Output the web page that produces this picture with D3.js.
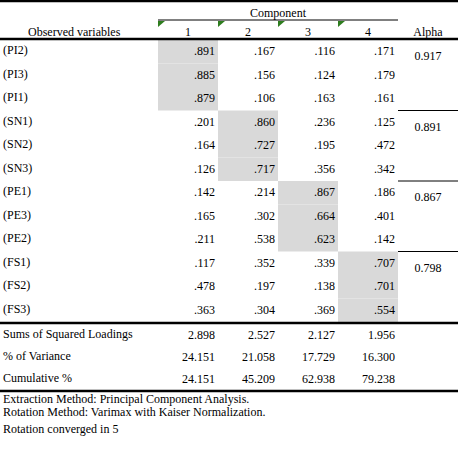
<!DOCTYPE html>
<html><head><meta charset="utf-8">
<script src="https://cdn.jsdelivr.net/npm/d3@7"></script>
<style>body{margin:0;background:#fff}</style>
</head><body><div id="chart"></div>
<script>
const WIDTH = 461;
const HEIGHT = 449;

const variables = ['(PI2)', '(PI3)', '(PI1)', '(SN1)', '(SN2)', '(SN3)', '(PE1)', '(PE3)', '(PE2)', '(FS1)', '(FS2)', '(FS3)'];
const components = ['1', '2', '3', '4'];
const loadings = [
    ['.891', '.167', '.116', '.171'],
    ['.885', '.156', '.124', '.179'],
    ['.879', '.106', '.163', '.161'],
    ['.201', '.860', '.236', '.125'],
    ['.164', '.727', '.195', '.472'],
    ['.126', '.717', '.356', '.342'],
    ['.142', '.214', '.867', '.186'],
    ['.165', '.302', '.664', '.401'],
    ['.211', '.538', '.623', '.142'],
    ['.117', '.352', '.339', '.707'],
    ['.478', '.197', '.138', '.701'],
    ['.363', '.304', '.369', '.554'],
];
// which component each variable loads on (highlighted cell)
const highlight = [0, 0, 0, 1, 1, 1, 2, 2, 2, 3, 3, 3];
const alphas = ['0.917', '0.891', '0.867', '0.798'];
const summaryLabels = ['Sums of Squared Loadings', '% of Variance', 'Cumulative %'];
const summaryValues = [
    ['2.898', '2.527', '2.127', '1.956'],
    ['24.151', '21.058', '17.729', '16.300'],
    ['24.151', '45.209', '62.938', '79.238'],
];
const notes = ['Extraction Method: Principal Component Analysis.', 'Rotation Method: Varimax with Kaiser Normalization.', 'Rotation converged in 5'];

const svg = d3.select('#chart').append('svg')
    .attr('width', WIDTH).attr('height', HEIGHT)
    .attr('font-family', "'Liberation Serif', 'Times New Roman', 'DejaVu Serif', serif")
    .attr('font-size', 12);

// Column scale: 4 components + alpha column
const xScale = d3.scaleBand().domain([...components, 'alpha']).range([158, 458]);
const bodyTop = 40;
const rowH = 23.5;
const yScale = d3.scaleBand().domain(variables).range([bodyTop, bodyTop + rowH * variables.length]);
const bodyBottom = bodyTop + rowH * variables.length;
const sumTop = bodyBottom + 2;
const ySum = d3.scaleBand().domain(summaryLabels).range([sumTop, sumTop + 22 * 3]);
const sumBottom = sumTop + 22 * 3;

// highlighted cells
svg.selectAll('rect.hl').data(variables).enter().append('rect')
    .attr('x', (d, i) => xScale(components[highlight[i]]))
    .attr('y', d => yScale(d))
    .attr('width', xScale.bandwidth())
    .attr('height', yScale.bandwidth())
    .attr('fill', '#d9d9d9');

// rules
const line = (x1, x2, y, w) => svg.append('line').attr('x1', x1).attr('x2', x2)
    .attr('y1', y).attr('y2', y).attr('stroke', '#000').attr('stroke-width', w);
line(0, 458, 1, 2.5);
line(158, 398, 20, 1);
line(0, 458, 39, 2.5);
line(0, 458, bodyBottom + 1, 2.5);
line(0, 458, sumBottom + 1, 2.5);
[3, 6, 9].forEach(i => line(398, 458, bodyTop + rowH * i, 1));

// header
svg.append('text').attr('x', (xScale('1') + xScale('4') + xScale.bandwidth()) / 2).attr('y', 17)
    .attr('text-anchor', 'middle').text('Component');
svg.append('text').attr('x', 28).attr('y', 36).text('Observed variables');
svg.append('text').attr('x', xScale('alpha') + xScale.bandwidth() / 2).attr('y', 36)
    .attr('text-anchor', 'middle').text('Alpha');
svg.selectAll('text.comp').data(components).enter().append('text')
    .attr('x', d => xScale(d) + xScale.bandwidth() / 2).attr('y', 36)
    .attr('text-anchor', 'middle').text(d => d);
svg.selectAll('path.tri').data(components).enter().append('path')
    .attr('d', d => `M${xScale(d)},21 L${xScale(d) + 7},21 L${xScale(d)},27 Z`)
    .attr('fill', '#2e7d1e');

// body
const rows = svg.selectAll('g.row').data(variables).enter().append('g')
    .attr('transform', d => `translate(0,${yScale(d) + 15})`);
rows.append('text').attr('x', 3).attr('y', -1).text(d => d);
rows.each(function (d, i) {
    d3.select(this).selectAll('text.v').data(loadings[i]).enter().append('text')
        .attr('x', (v, j) => xScale(components[j]) + xScale.bandwidth() - 3)
        .attr('text-anchor', 'end').text(v => v);
});
svg.selectAll('text.alpha').data(alphas).enter().append('text')
    .attr('x', xScale('alpha') + xScale.bandwidth() / 2)
    .attr('y', (d, i) => yScale(variables[i * 3]) + 20)
    .attr('text-anchor', 'middle').text(d => d);

// summary
const srows = svg.selectAll('g.srow').data(summaryLabels).enter().append('g')
    .attr('transform', d => `translate(0,${ySum(d) + 15})`);
srows.append('text').attr('x', 3).attr('y', -1).text(d => d);
srows.each(function (d, i) {
    d3.select(this).selectAll('text.v').data(summaryValues[i]).enter().append('text')
        .attr('x', (v, j) => xScale(components[j]) + xScale.bandwidth() - 3)
        .attr('text-anchor', 'end').text(v => v);
});

// notes
svg.selectAll('text.note').data(notes).enter().append('text')
    .attr('x', 3).attr('y', (d, i) => sumBottom + 13 + i * 13 + (i === 2 ? 4 : 0)).text(d => d);
</script></body></html>
